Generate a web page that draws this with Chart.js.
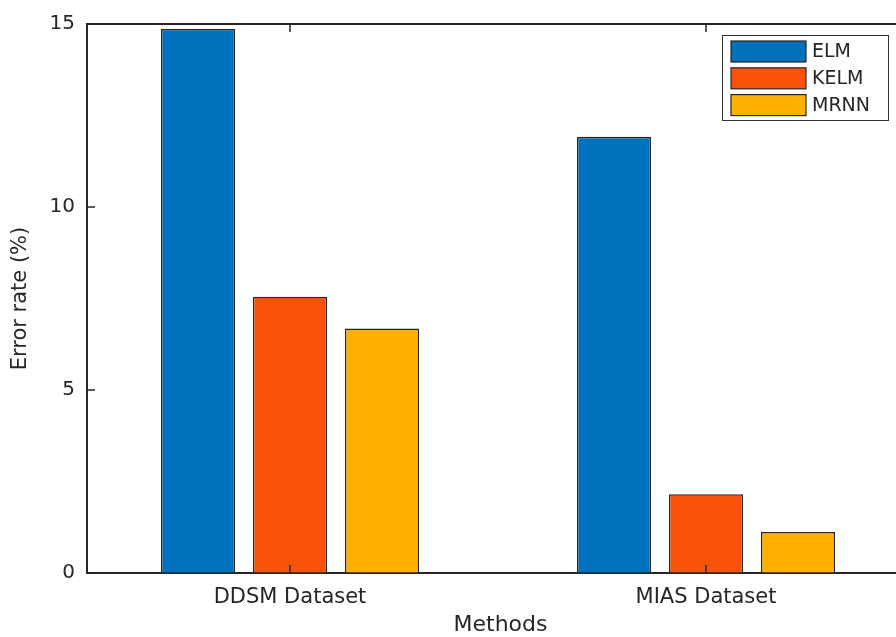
<!DOCTYPE html>
<html>
<head>
<meta charset="utf-8">
<script src="https://cdn.jsdelivr.net/npm/chart.js@4"></script>
<style>
  html, body { margin: 0; padding: 0; background: #fff; overflow: hidden; }
  #wrap { width: 896px; height: 637px; overflow: hidden; }
</style>
</head>
<body>
<div id="wrap"><canvas id="bar-chart" width="920" height="637"></canvas></div>
<script>
var categories = ['DDSM Dataset', 'MIAS Dataset'];
var seriesNames = ['ELM', 'KELM', 'MRNN'];
var elmValues = [14.86, 11.92];
var kelmValues = [7.55, 2.15];
var mrnnValues = [6.68, 1.12];
var yTicks = [0, 5, 10, 15];

var colors = ['#0072BD', '#F9530A', '#FFB000'];
var FONT = '"DejaVu Sans", Arial, Helvetica, sans-serif';

function points(values) {
    return values.map(function (v, i) { return { x: i + 1, y: v }; });
}

var data = {
    datasets: [elmValues, kelmValues, mrnnValues].map(function (vals, k) {
        return {
            label: seriesNames[k],
            data: points(vals),
            backgroundColor: colors[k],
            borderColor: '#262626',
            borderWidth: 1.4,
            categoryPercentage: 0.6635,
            barPercentage: 0.804
        };
    })
};

// matlab style box: top line, inward ticks
var axesBox = {
    id: 'axesBox',
    afterDraw: function (chart) {
        var ctx = chart.ctx, a = chart.chartArea;
        var xs = chart.scales.x, ys = chart.scales.y;
        ctx.save();
        ctx.strokeStyle = '#262626';
        ctx.lineWidth = 2;
        ctx.beginPath();
        ctx.moveTo(a.left - 1, a.top);
        ctx.lineTo(a.right + 1, a.top);
        ctx.moveTo(a.right, a.top);
        ctx.lineTo(a.right, a.bottom);
        ctx.stroke();
        ctx.lineWidth = 1.5;
        ctx.beginPath();
        xs.ticks.forEach(function (t) {
            var px = Math.round(xs.getPixelForValue(t.value));
            ctx.moveTo(px, a.bottom);
            ctx.lineTo(px, a.bottom - 8);
            ctx.moveTo(px, a.top);
            ctx.lineTo(px, a.top + 8);
        });
        ys.ticks.forEach(function (t) {
            var py = Math.round(ys.getPixelForValue(t.value));
            ctx.moveTo(a.left, py);
            ctx.lineTo(a.left + 8, py);
            ctx.moveTo(a.right, py);
            ctx.lineTo(a.right - 8, py);
        });
        ctx.stroke();
        ctx.restore();
    }
};

// legend box in upper right corner
var boxLegend = {
    id: 'boxLegend',
    afterDraw: function (chart) {
        var ctx = chart.ctx;
        var x0 = 722.5, y0 = 35.5, w = 166, h = 85;
        ctx.save();
        ctx.fillStyle = '#fff';
        ctx.fillRect(x0, y0, w, h);
        ctx.strokeStyle = '#333';
        ctx.lineWidth = 1;
        ctx.strokeRect(x0, y0, w, h);
        ctx.font = '19px ' + FONT;
        ctx.textBaseline = 'middle';
        chart.data.datasets.forEach(function (ds, i) {
            var sy = 41 + i * 26.8;
            ctx.fillStyle = ds.backgroundColor;
            ctx.fillRect(731, sy, 75, 21);
            ctx.strokeStyle = '#262626';
            ctx.lineWidth = 1.2;
            ctx.strokeRect(731, sy, 75, 21);
            ctx.fillStyle = '#262626';
            ctx.fillText(ds.label, 812, sy + 11);
        });
        ctx.restore();
    }
};

var layout = {
    type: 'bar',
    data: data,
    options: {
        responsive: false,
        animation: false,
        layout: {
            padding: { top: 23, right: 6, left: 0, bottom: 0 }
        },
        plugins: {
            legend: { display: false },
            tooltip: { enabled: false }
        },
        scales: {
            x: {
                type: 'linear',
                offset: false,
                min: 0.512,
                max: 2.5,
                afterBuildTicks: function (scale) {
                    scale.ticks = categories.map(function (c, i) { return { value: i + 1 }; });
                },
                afterFit: function (scale) { scale.height = 64; },
                grid: { display: true, offset: false, drawOnChartArea: false, drawTicks: false },
                border: { display: true, color: '#262626', width: 2 },
                ticks: {
                    padding: 12,
                    color: '#262626',
                    font: { family: FONT, size: 21 },
                    callback: function (v) { return categories[v - 1]; }
                },
                title: {
                    display: true,
                    text: 'Methods',
                    color: '#262626',
                    padding: { top: 0, bottom: -1 },
                    font: { family: FONT, size: 22 }
                }
            },
            y: {
                min: 0,
                max: 15,
                afterBuildTicks: function (scale) {
                    scale.ticks = yTicks.map(function (v) { return { value: v }; });
                },
                afterFit: function (scale) { scale.width = 87; },
                grid: { display: true, drawOnChartArea: false, drawTicks: false },
                border: { display: true, color: '#262626', width: 2 },
                ticks: {
                    padding: 12,
                    color: '#262626',
                    font: { family: FONT, size: 20 }
                },
                title: {
                    display: true,
                    text: 'Error rate (%)',
                    color: '#262626',
                    padding: { top: 8, bottom: 0 },
                    font: { family: FONT, size: 21 }
                }
            }
        }
    },
    plugins: [axesBox, boxLegend]
};

new Chart(document.getElementById('bar-chart'), layout);
</script>
</body>
</html>
